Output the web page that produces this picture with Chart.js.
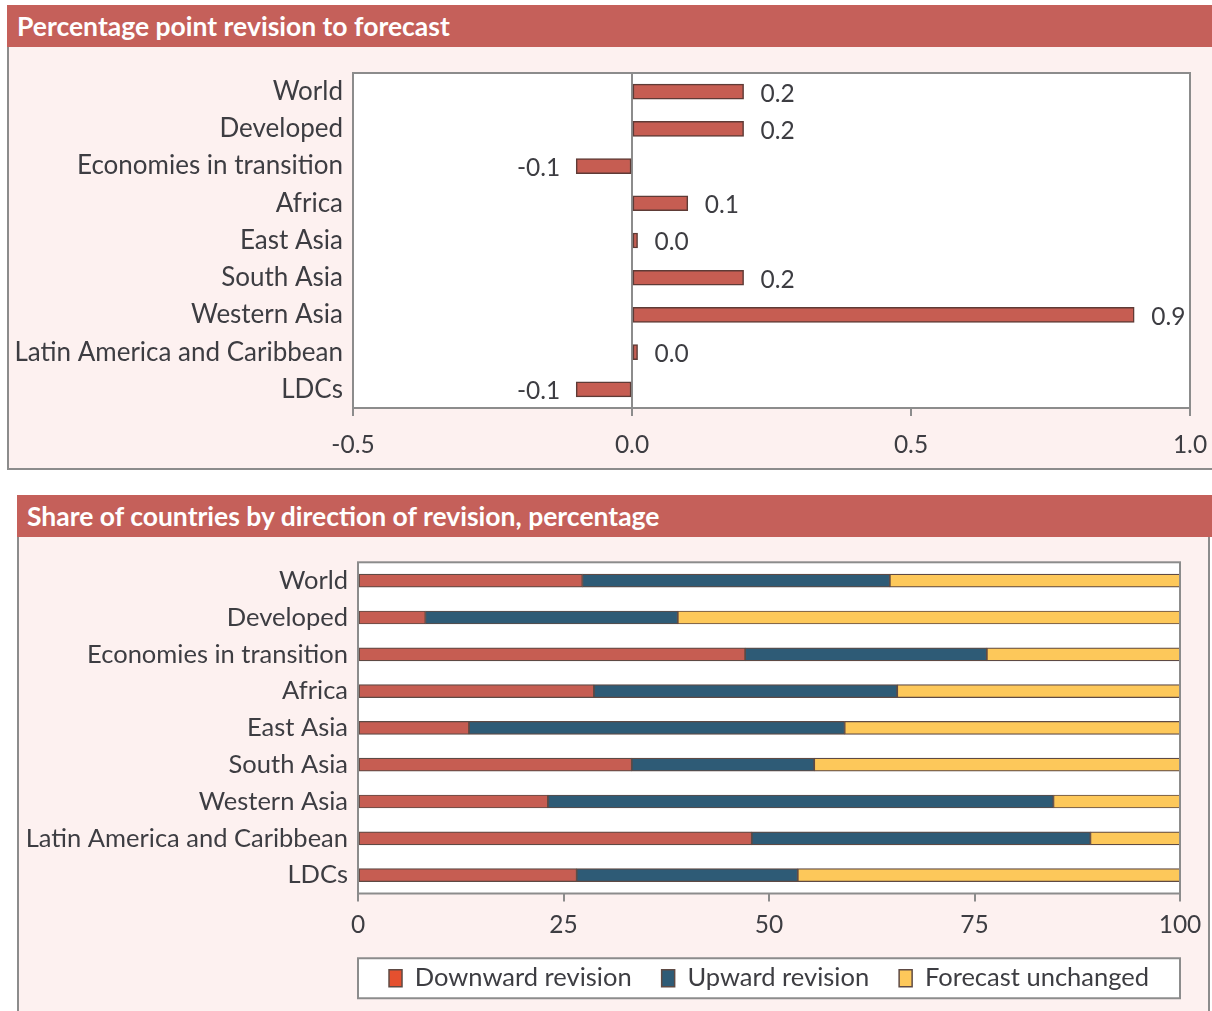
<!DOCTYPE html>
<html>
<head>
<meta charset="utf-8">
<script src="https://cdn.jsdelivr.net/npm/chart.js@4"></script>
<style>
  body { margin: 0; background: #fff; width: 1212px; height: 1011px; position: relative; overflow: hidden; font-family: Lato, sans-serif; }
  .panel { position: absolute; background: #fdf1f0; }
  .head { position: absolute; top: 0; height: 42px; background: #c5605a; color: #fff; font-weight: bold; font-size: 26.5px; line-height: 42px; box-sizing: border-box; }
  canvas { position: absolute; }
</style>
</head>
<body>
<div class="panel" style="left:7px;top:5px;width:1205px;height:463px;border-left:2px solid #8c8c8c;border-bottom:2px solid #8c8c8c;">
  <div class="head" style="left:-2px;width:1207px;padding-left:10px;">Percentage point revision to forecast</div>
</div>
<div class="panel" style="left:17px;top:495px;width:1189px;height:516px;border-left:2px solid #8c8c8c;border-right:2px solid #8c8c8c;">
  <div class="head" style="left:-2px;width:1197px;padding-left:10px;">Share of countries by direction of revision, percentage</div>
</div>
<canvas id="revision" style="left:9px;top:47px;width:1203px;height:421px;" width="1203" height="421"></canvas>
<canvas id="share" style="left:19px;top:537px;width:1193px;height:474px;" width="1193" height="474"></canvas>
<script>
const regions = ['World', 'Developed', 'Economies in transition', 'Africa', 'East Asia',
  'South Asia', 'Western Asia', 'Latin America and Caribbean', 'LDCs'];
const revision = [0.2, 0.2, -0.1, 0.1, 0.01, 0.2, 0.9, 0.01, -0.1];
const revisionTicks = [-0.5, 0, 0.5, 1.0];

const downward = [27.3, 8.2, 47.1, 28.7, 13.5, 33.3, 23.1, 47.9, 26.6];
const upward = [37.4, 30.7, 29.4, 36.9, 45.7, 22.2, 61.5, 41.2, 26.9];
const unchanged = [35.3, 61.1, 23.5, 34.4, 40.8, 44.5, 15.4, 10.9, 46.5];
const shareTicks = [0, 25, 50, 75, 100];

const FONT = 'Lato, sans-serif';
const TEXT = '#3d3d42';
const LINE = '#8c8c8c';

// white plot area with grey frame
const frame = {
  id: 'frame',
  beforeDraw(chart) {
    const { ctx, chartArea: a } = chart;
    ctx.save();
    ctx.fillStyle = '#fff';
    ctx.fillRect(a.left, a.top, a.right - a.left, a.bottom - a.top);
    const lg = chart.legend;
    if (lg && lg.options.display && lg.legendHitBoxes.length) {
      const hb = lg.legendHitBoxes[0];
      const cy = hb.top + hb.height / 2;
      ctx.fillRect(a.left, cy - 20, a.right - a.left, 40);
      ctx.strokeStyle = LINE;
      ctx.lineWidth = 2;
      ctx.strokeRect(a.left, cy - 20, a.right - a.left, 40);
    }
    ctx.restore();
  },
  afterDatasetsDraw(chart) {
    const { ctx, chartArea: a } = chart;
    ctx.save();
    ctx.strokeStyle = LINE;
    ctx.lineWidth = 2;
    ctx.strokeRect(a.left, a.top, a.right - a.left, a.bottom - a.top);
    ctx.restore();
  }
};

const valueLabels = {
  id: 'valueLabels',
  afterDatasetsDraw(chart) {
    const ctx = chart.ctx;
    ctx.save();
    ctx.font = '24.5px ' + FONT;
    ctx.fillStyle = TEXT;
    ctx.textBaseline = 'middle';
    chart.getDatasetMeta(0).data.forEach((bar, i) => {
      const v = revision[i];
      ctx.textAlign = v < 0 ? 'right' : 'left';
      ctx.fillText(v.toFixed(1), v < 0 ? bar.x - 16 : bar.x + 17, bar.y + 2);
    });
    ctx.restore();
  }
};

new Chart(document.getElementById('revision'), {
  type: 'bar',
  data: {
    labels: regions,
    datasets: [{
      data: revision,
      backgroundColor: '#c65d52',
      borderColor: '#5e3b36',
      borderWidth: 1.5,
      borderSkipped: false,
      barThickness: 15
    }]
  },
  options: {
    indexAxis: 'y',
    responsive: false,
    animation: false,
    layout: { padding: { top: 26, right: 22, left: 0, bottom: 0 } },
    plugins: { legend: { display: false }, tooltip: { enabled: false } },
    scales: {
      x: {
        min: -0.5,
        max: 1.0,
        afterBuildTicks: s => { s.ticks = revisionTicks.map(v => ({ value: v })); },
        afterFit: s => { s.height = 60; s.paddingLeft = 0; s.paddingRight = 0; },
        border: { display: false },
        grid: {
          color: c => (c.tick && c.tick.value === 0 ? LINE : 'rgba(0,0,0,0)'),
          lineWidth: 2,
          tickColor: LINE,
          tickLength: 8
        },
        ticks: {
          callback: v => v.toFixed(1),
          font: { size: 24.5, family: FONT },
          color: TEXT,
          padding: 14,
          maxRotation: 0
        }
      },
      y: {
        afterFit: s => { s.width = 344; },
        border: { display: false },
        grid: { display: false, drawTicks: false },
        ticks: { font: { size: 26, family: FONT }, color: TEXT, padding: 10 }
      }
    }
  },
  plugins: [frame, valueLabels]
});

const legendFill = ['#e5502f', '#2e5b76', '#fdc85a'];

new Chart(document.getElementById('share'), {
  type: 'bar',
  data: {
    labels: regions,
    datasets: [
      { label: 'Downward revision', data: downward, backgroundColor: '#c65d52' },
      { label: 'Upward revision', data: upward, backgroundColor: '#2e5b76' },
      { label: 'Forecast unchanged', data: unchanged, backgroundColor: '#fdc85a' }
    ].map(d => Object.assign(d, { borderColor: '#5e4a44', borderWidth: 1.2, borderSkipped: false, barThickness: 13 }))
  },
  options: {
    indexAxis: 'y',
    responsive: false,
    animation: false,
    layout: { padding: { top: 25, right: 32, left: 0, bottom: 10 } },
    plugins: {
      tooltip: { enabled: false },
      legend: {
        position: 'bottom',
        fullSize: false,
        labels: {
          font: { size: 25.5, family: FONT },
          color: TEXT,
          boxWidth: 13,
          boxHeight: 17,
          padding: 30,
          generateLabels: chart => Chart.defaults.plugins.legend.labels.generateLabels(chart)
            .map((item, i) => Object.assign(item, { fillStyle: legendFill[i], strokeStyle: '#5e4a44', lineWidth: 1.5 }))
        }
      }
    },
    scales: {
      x: {
        stacked: true,
        min: 0,
        max: 100,
        afterBuildTicks: s => { s.ticks = shareTicks.map(v => ({ value: v })); },
        afterFit: s => { s.height = 42; s.paddingLeft = 0; s.paddingRight = 0; },
        border: { display: false },
        grid: { drawOnChartArea: false, tickColor: LINE, lineWidth: 2, tickLength: 8 },
        ticks: { font: { size: 24.5, family: FONT }, color: TEXT, padding: 9, maxRotation: 0 }
      },
      y: {
        stacked: true,
        afterFit: s => { s.width = 339; },
        border: { display: false },
        grid: { display: false, drawTicks: false },
        ticks: { font: { size: 25.5, family: FONT }, color: TEXT, padding: 10 }
      }
    }
  },
  plugins: [frame]
});
</script>
</body>
</html>
